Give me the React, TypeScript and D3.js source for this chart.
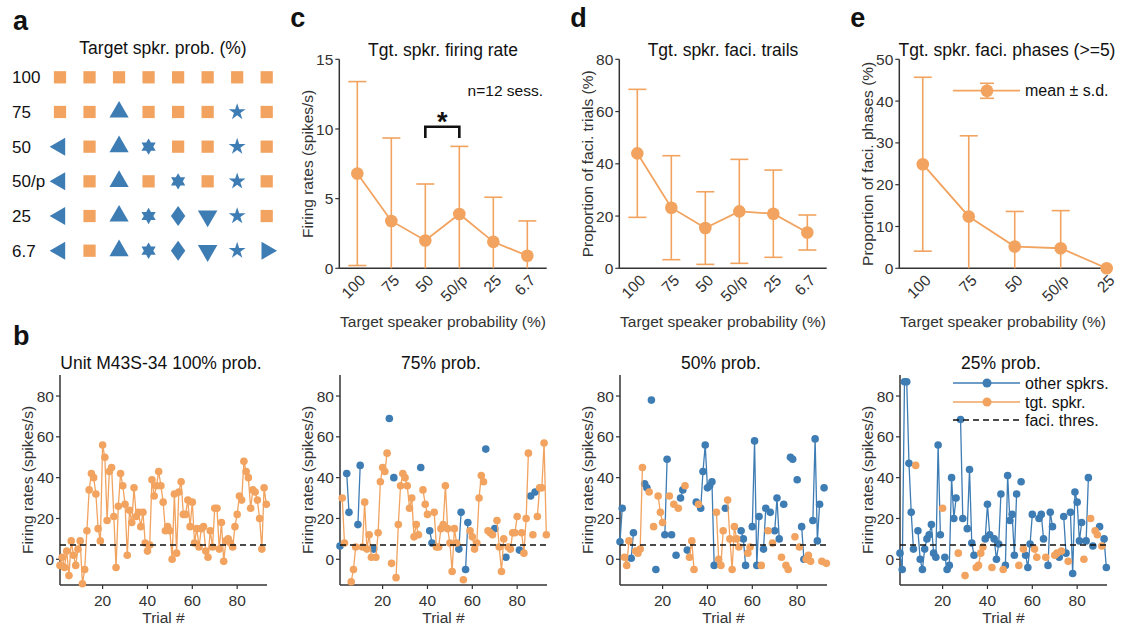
import React from "react";
import * as d3 from "d3";

const ORANGE = "#F1A35F";
const BLUE = "#3E7CB4";
const AXIS = "#333333";
const FONT = "'Liberation Sans', Arial, Helvetica, sans-serif";

// ---- panel a: speaker layout per target probability ----
const gridRowLabels = ["100", "75", "50", "50/p", "25", "6.7"];
const gridMarkers = [
  ["sq", "sq", "sq", "sq", "sq", "sq", "sq", "sq"],
  ["sq", "sq", "up", "sq", "sq", "sq", "star", "sq"],
  ["left", "sq", "up", "hex", "sq", "sq", "star", "sq"],
  ["left", "sq", "up", "sq", "hex", "sq", "star", "sq"],
  ["left", "sq", "up", "hex", "dia", "down", "star", "sq"],
  ["left", "sq", "up", "hex", "dia", "down", "star", "right"],
];

// ---- panels c, d, e: mean +- s.d. ----
const probLabels = ["100", "75", "50", "50/p", "25", "6.7"];
const rateMean = [6.8, 3.4, 2.0, 3.9, 1.9, 0.9];
const rateSd = [6.6, 5.95, 4.05, 4.85, 3.2, 2.5];
const faciTrialMean = [44.0, 23.2, 15.4, 21.8, 20.9, 13.7];
const faciTrialSd = [24.5, 19.9, 13.9, 19.9, 16.7, 6.7];
const phaseLabels = ["100", "75", "50", "50/p", "25"];
const faciPhaseMean = [24.9, 12.4, 5.2, 4.8, 0];
const faciPhaseSd = [20.8, 19.3, 8.4, 9.0, 0];

// ---- panel b: single unit, trial by trial ----
// speaker per trial: "t" = target speaker, "x" = other speaker
const faciThreshold = 7;
const trialTicks = [20, 40, 60, 80];
const rateTicks = [0, 20, 40, 60, 80];

const unit100Rates = [
  -3, 1, -4, 4, -8, 9, 2, -3, 5, 9,
  -12, -5, 14, 34, 42, 40, 32, 15, 9, 56,
  50, 19, 43, 45, 21, -4, 26, 42, 36, 27,
  2, 24, 18, 35, 21, 23, 16, 23, 8, 4,
  7, 39, 31, 36, 43, 36, 28, 14, 16, 14,
  0, 32, 3, 33, 38, 22, 22, 29, 16, 28,
  8, 15, 6, 15, 16, 4, 1, 14, 6, 25,
  25, 5, 18, -1, 9, 10, 8, 6, 16, 22,
  31, 29, 48, 43, 40, 25, 34, 33, 29, 20,
  5, 35, 27,
];

const prob75Rates = [
  6.5, 30, 8, 42, 23, -11, -5, 6, 17, 46,
  6, 28, 5, 12, 1, 5, 1, 13, 38, 45,
  43, 52, 69, -2, 40, -9, 17, 36, 42, 40,
  36, 25, 30, 11, 17, 12, 45, 34, 27, 22,
  14, 8, 23, 6, 6, 15, 17, 36, 15, 8,
  -6, 15, 8, 5, 23, -10, -5, 18, 14, 11,
  5, 8, 30, 41, 38, 54, 14, 13, 12, 15,
  19, 6, -6, 10, 1, 6, 5, 13, 13, 21,
  4.5, 13, 3, 20, 52, 31, 12, 33, 21, 35,
  35, 57, 12,
];
const prob75Speaker = (
  "xttxxtttxx" + "tttttxtttt" + "ttxtxttttt" + "ttttttxttt" + "xxtttttttt" +
  "tttxxtxxtt" + "tttttxtttx" + "ttttxttttt" + "xttttxtxtt" + "ttt"
).split("");

const prob50Rates = [
  8.6, 25, 1, -3, 9, 0.5, 13, 4, 3, 5,
  45, 37, 35, 33, 78, 16, -5, 31, 23, 18,
  12, 49, 31, 12, 27, 2, 25, 30, 34, 36,
  4.5, 1, 9, -5, 28, 27, 25, 43, 56, 35,
  36, 38, -3, 23, 0, -3, 14, 25, 29, 10,
  -5, 16, 10, 6, 14, 10, -3, 3, 6, 16,
  58, -3, 21, -3, 5, 25, 14, 23, 8, 14,
  30, 10, 1, 27, -3, -5, 50, 49, 11, 39,
  6, 16, 0, 0, 2, -1, 19, 59, 9, 27,
  -1, 35, -2,
];
const prob50Speaker = (
  "xxtttxxttt" + "txxtxtxttt" + "xxtxtxtxxt" + "xtttxtxxxx" + "xxxttttxtt" +
  "ttttxxxttx" + "xxxtxxtxtx" + "xxtxttxxtx" + "txxtttxxxx" + "txt"
).split("");

const prob25Rates = [
  3, -5, 87, 87, 47, 23, 5, 46, 14, 0,
  -5, 5, 10, 12, 17, 3, 1, 56, 12, 25,
  1, -5, -3, 40, 20, 30, 3, 68.5, 20, -8,
  15, 44, 8, 2, -4, -3, 3, 6, 10, 27,
  12, -4, 10, 0, 7.5, 32, -5, -3, 41, 19,
  22, 2, 32, -3, 38, 5, 2, -4, 7.5, 22,
  5, 1, 20, 22, 10, 1, -3, 23, 16, 2,
  3, 1, 4, 21, 3, -1, 23, -7, 33, 28,
  9, 18, 0, 9, 40, 20, 6.5, 14, 12, 16,
  6.5, 10, -4,
];
const prob25Speaker = (
  "xxxxxxxtxx" + "xxxxxxxxxt" + "xxxxxxtxxt" + "xxxxttttxx" + "xtxxxxtxxx" +
  "xxxtxtxxxx" + "ttxxxtxxxt" + "txtxxtxxxx" + "xxtxxtxttx" + "txx"
).split("");

// ---------------------------------------------------------------

function hexagramPath(r: number) {
  const pts: [number, number][] = d3.range(12).map((i) => {
    const a = -Math.PI / 2 + (i * Math.PI) / 6;
    const rr = i % 2 === 0 ? r : r / Math.sqrt(3);
    return [rr * Math.cos(a), rr * Math.sin(a)];
  });
  return d3.line()(pts) + "Z";
}

function diamondPath(hw: number, hh: number) {
  return d3.line()([[0, -hh], [hw, 0], [0, hh], [-hw, 0]]) + "Z";
}

const markerShapes: Record<string, { d: string; rot: number }> = {
  sq: { d: d3.symbol(d3.symbolSquare, 150)() as string, rot: 0 },
  up: { d: d3.symbol(d3.symbolTriangle, 160)() as string, rot: 0 },
  down: { d: d3.symbol(d3.symbolTriangle, 165)() as string, rot: 180 },
  left: { d: d3.symbol(d3.symbolTriangle, 140)() as string, rot: -90 },
  right: { d: d3.symbol(d3.symbolTriangle, 140)() as string, rot: 90 },
  star: { d: d3.symbol(d3.symbolStar, 88)() as string, rot: 0 },
  dia: { d: diamondPath(7.2, 10), rot: 0 },
  hex: { d: hexagramPath(8.2), rot: 0 },
};

function PanelA() {
  const x = d3.scalePoint<number>().domain(d3.range(8)).range([60, 266.7]);
  const y = d3.scalePoint<string>().domain(gridRowLabels).range([77.3, 250.7]);
  return (
    <g>
      <text x={13} y={30} fontSize={27} fontWeight="bold" fill="#111">a</text>
      <text x={163} y={54} textAnchor="middle" fontSize={17.5} fill="#111">
        Target spkr. prob. (%)
      </text>
      {gridRowLabels.map((row, i) => (
        <g key={row}>
          <text x={12} y={y(row)} dy="0.36em" fontSize={17} fill="#111">{row}</text>
          {gridMarkers[i].map((m, j) => (
            <path
              key={j}
              d={markerShapes[m].d}
              transform={`translate(${x(j)},${y(row)}) rotate(${markerShapes[m].rot})`}
              fill={m === "sq" ? ORANGE : BLUE}
            />
          ))}
        </g>
      ))}
    </g>
  );
}

type ErrProps = {
  left: number;
  letter: string;
  title: string;
  titleX?: number;
  yLabel: string;
  labels: string[];
  mean: number[];
  sd: number[];
  yMax: number;
  yTicks: number[];
  xDomain: [number, number];
  extra?: (x: d3.ScaleLinear<number, number>, y: d3.ScaleLinear<number, number>) => React.ReactNode;
};

function ErrorPanel(p: ErrProps) {
  const top = 59.3, bottom = 268.3, width = 207.4;
  const x = d3.scaleLinear().domain(p.xDomain).range([p.left, p.left + width]);
  const y = d3.scaleLinear().domain([0, p.yMax]).range([bottom, top]);
  const line = d3.line<number>().x((_, i) => x(i)).y((d) => y(d));
  const cx = p.left + width / 2;
  return (
    <g>
      <text x={p.left - 49} y={27} fontSize={27} fontWeight="bold" fill="#111">{p.letter}</text>
      <text x={p.titleX ?? cx} y={56} textAnchor="middle" fontSize={17.5} fill="#111">{p.title}</text>
      {/* y axis */}
      <line x1={p.left} x2={p.left} y1={top} y2={bottom} stroke={AXIS} strokeWidth={1.5} />
      {p.yTicks.map((t) => (
        <g key={t}>
          <line x1={p.left - 4} x2={p.left} y1={y(t)} y2={y(t)} stroke={AXIS} strokeWidth={1.2} />
          <text x={p.left - 6} y={y(t)} dy="0.36em" textAnchor="end" fontSize={15.5} fill={AXIS}>{t}</text>
        </g>
      ))}
      <text
        transform={`translate(${p.left - 32},${(top + bottom) / 2}) rotate(-90)`}
        textAnchor="middle"
        dy="0.36em"
        fontSize={15.5}
        fill={AXIS}
      >
        {p.yLabel}
      </text>
      {/* x axis */}
      <line x1={p.left} x2={p.left + width} y1={bottom} y2={bottom} stroke={AXIS} strokeWidth={1.5} />
      {p.labels.map((l, i) => (
        <text
          key={l}
          transform={`translate(${x(i) + 9},${bottom + 13}) rotate(-45)`}
          textAnchor="end"
          fontSize={15.5}
          fill={AXIS}
        >
          {l}
        </text>
      ))}
      <text x={cx} y={327} textAnchor="middle" fontSize={15.5} fill={AXIS}>
        Target speaker probability (%)
      </text>
      {/* error bars */}
      {p.mean.map((m, i) => {
        const s = p.sd[i];
        if (!s) return null;
        const lo = m - s;
        const hi = m + s;
        return (
          <g key={i} stroke={ORANGE} strokeWidth={1.6}>
            <line x1={x(i)} x2={x(i)} y1={y(Math.max(0, lo))} y2={y(hi)} />
            <line x1={x(i) - 9} x2={x(i) + 9} y1={y(hi)} y2={y(hi)} />
            {lo > 0 && <line x1={x(i) - 9} x2={x(i) + 9} y1={y(lo)} y2={y(lo)} />}
          </g>
        );
      })}
      <path d={line(p.mean) || ""} fill="none" stroke={ORANGE} strokeWidth={1.8} />
      {p.mean.map((m, i) => (
        <circle key={i} cx={x(i)} cy={y(m)} r={6.3} fill={ORANGE} />
      ))}
      {p.extra && p.extra(x, y)}
    </g>
  );
}

type TrialProps = {
  left: number;
  title: string;
  rates: number[];
  speaker?: string[];
  letter?: string;
  legend?: boolean;
};

function TrialPanel(p: TrialProps) {
  const top = 375, bottom = 585, width = 207;
  const x = d3.scaleLinear().domain([1, 93.3]).range([p.left, p.left + width]);
  const y = d3.scaleLinear().domain([-12.6, 90.3]).range([bottom, top]);
  const spk = p.speaker ?? p.rates.map(() => "t");
  const series = [
    { key: "x", color: BLUE },
    { key: "t", color: ORANGE },
  ];
  const line = d3
    .line<number | null>()
    .defined((d) => d !== null)
    .x((_, i) => x(i + 1))
    .y((d) => y(d as number));
  return (
    <g>
      {p.letter && (
        <text x={13} y={345} fontSize={27} fontWeight="bold" fill="#111">{p.letter}</text>
      )}
      <text x={p.left + 101} y={369} textAnchor="middle" fontSize={17.5} fill="#111">{p.title}</text>
      <line x1={p.left} x2={p.left} y1={top} y2={bottom} stroke={AXIS} strokeWidth={1.5} />
      {rateTicks.map((t) => (
        <g key={t}>
          <line x1={p.left - 4} x2={p.left} y1={y(t)} y2={y(t)} stroke={AXIS} strokeWidth={1.2} />
          <text x={p.left - 6} y={y(t)} dy="0.36em" textAnchor="end" fontSize={15.5} fill={AXIS}>{t}</text>
        </g>
      ))}
      <text
        transform={`translate(${p.left - 33},${(top + bottom) / 2}) rotate(-90)`}
        textAnchor="middle"
        dy="0.36em"
        fontSize={15.5}
        fill={AXIS}
      >
        Firing rates (spikes/s)
      </text>
      <line x1={p.left} x2={p.left + width} y1={bottom} y2={bottom} stroke={AXIS} strokeWidth={1.5} />
      {trialTicks.map((t) => (
        <g key={t}>
          <line x1={x(t)} x2={x(t)} y1={bottom} y2={bottom + 4} stroke={AXIS} strokeWidth={1.2} />
          <text x={x(t)} y={600} dy="0.36em" textAnchor="middle" fontSize={15.5} fill={AXIS}>{t}</text>
        </g>
      ))}
      <text x={p.left + width / 2} y={617} dy="0.36em" textAnchor="middle" fontSize={15.5} fill={AXIS}>
        Trial #
      </text>
      {series.map((s) => {
        const vals = p.rates.map((v, i) => (spk[i] === s.key ? v : null));
        return (
          <g key={s.key}>
            <path d={line(vals) || ""} fill="none" stroke={s.color} strokeWidth={1.3} />
            {vals.map((v, i) =>
              v === null ? null : <circle key={i} cx={x(i + 1)} cy={y(v)} r={3.8} fill={s.color} />
            )}
          </g>
        );
      })}
      <line
        x1={p.left}
        x2={p.left + width}
        y1={y(faciThreshold)}
        y2={y(faciThreshold)}
        stroke="#111"
        strokeWidth={1.6}
        strokeDasharray="6 4"
      />
      {p.legend && (
        <g fontSize={16} fill="#111">
          <line x1={953} x2={1020} y1={383} y2={383} stroke={BLUE} strokeWidth={1.5} />
          <circle cx={987} cy={383} r={4.5} fill={BLUE} />
          <text x={1025} y={383} dy="0.36em">other spkrs.</text>
          <line x1={953} x2={1020} y1={402} y2={402} stroke={ORANGE} strokeWidth={1.5} />
          <circle cx={987} cy={402} r={4.5} fill={ORANGE} />
          <text x={1025} y={402} dy="0.36em">tgt. spkr.</text>
          <line x1={953} x2={1020} y1={420} y2={420} stroke="#111" strokeWidth={1.6} strokeDasharray="6 4" />
          <text x={1025} y={420} dy="0.36em">faci. thres.</text>
        </g>
      )}
    </g>
  );
}

export default function App() {
  return (
    <svg
      width={1122}
      height={631}
      style={{ position: "absolute", left: 0, top: 0, background: "#fff" }}
      fontFamily={FONT}
    >
      <PanelA />
      <ErrorPanel
        left={339.3}
        letter="c"
        title="Tgt. spkr. firing rate"
        yLabel="Firing rates (spikes/s)"
        labels={probLabels}
        mean={rateMean}
        sd={rateSd}
        yMax={15}
        yTicks={[0, 5, 10, 15]}
        xDomain={[-0.53, 5.57]}
        extra={(x, y) => (
          <g>
            <path
              d={`M${x(2)},${y(9.35)}V${y(10.16)}H${x(3)}V${y(9.35)}`}
              fill="none"
              stroke="#111"
              strokeWidth={2.6}
            />
            <text x={(x(2) + x(3)) / 2} y={y(10.16) + 4} textAnchor="middle" fontSize={27} fontWeight="bold" fill="#111">*</text>
            <text x={543} y={y(12.8)} dy="0.36em" textAnchor="end" fontSize={15.5} fill="#111">n=12 sess.</text>
          </g>
        )}
      />
      <ErrorPanel
        left={619.3}
        letter="d"
        title="Tgt. spkr. faci. trails"
        yLabel="Proportion of faci. trials (%)"
        labels={probLabels}
        mean={faciTrialMean}
        sd={faciTrialSd}
        yMax={80}
        yTicks={[0, 20, 40, 60, 80]}
        xDomain={[-0.53, 5.57]}
      />
      <ErrorPanel
        left={899.3}
        letter="e"
        title="Tgt. spkr. faci. phases (>=5)"
        titleX={1007}
        yLabel="Proportion of faci. phases (%)"
        labels={phaseLabels}
        mean={faciPhaseMean}
        sd={faciPhaseSd}
        yMax={50}
        yTicks={[0, 10, 20, 30, 40, 50]}
        xDomain={[-0.51, 4]}
        extra={() => (
          <g>
            <line x1={953} x2={1020} y1={90.7} y2={90.7} stroke={ORANGE} strokeWidth={1.8} />
            <line x1={987} x2={987} y1={83.3} y2={98.3} stroke={ORANGE} strokeWidth={1.6} />
            <line x1={980} x2={994} y1={83.3} y2={83.3} stroke={ORANGE} strokeWidth={1.6} />
            <line x1={980} x2={994} y1={98.3} y2={98.3} stroke={ORANGE} strokeWidth={1.6} />
            <circle cx={987} cy={90.7} r={6.3} fill={ORANGE} />
            <text x={1025} y={90.7} dy="0.36em" fontSize={16} fill="#111">mean ± s.d.</text>
          </g>
        )}
      />
      <TrialPanel left={60} letter="b" title="Unit M43S-34 100% prob." rates={unit100Rates} />
      <TrialPanel left={340} title="75% prob." rates={prob75Rates} speaker={prob75Speaker} />
      <TrialPanel left={620} title="50% prob." rates={prob50Rates} speaker={prob50Speaker} />
      <TrialPanel left={900} title="25% prob." rates={prob25Rates} speaker={prob25Speaker} legend />
    </svg>
  );
}
